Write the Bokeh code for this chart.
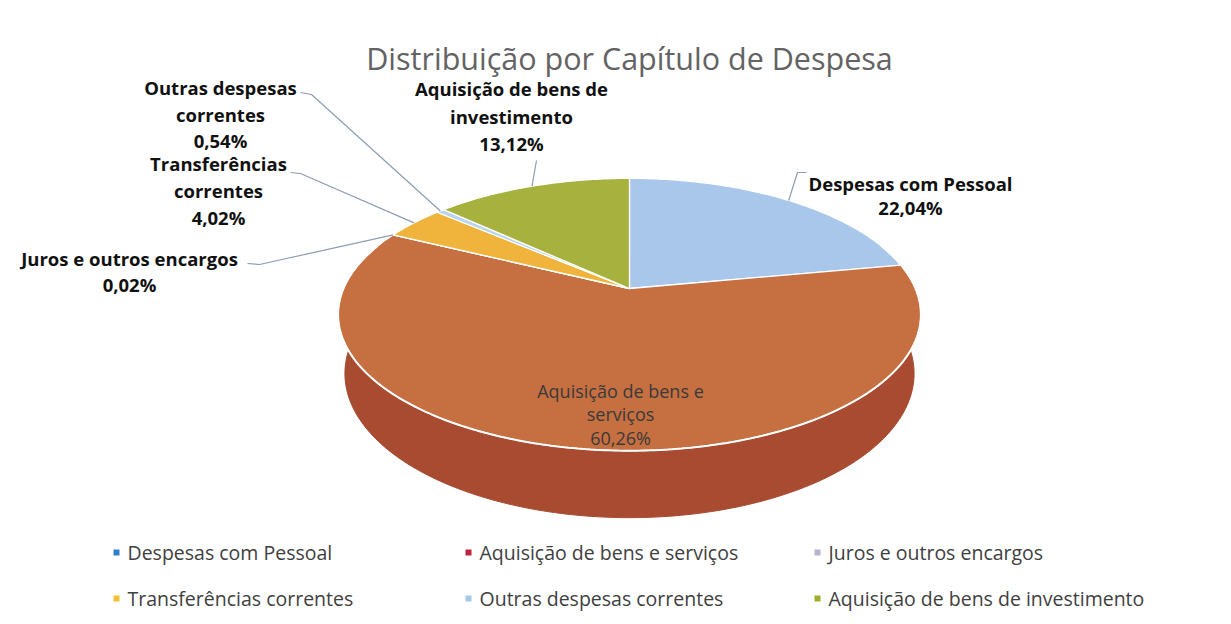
import numpy as np
from bokeh.plotting import figure
from bokeh.models import Range1d
from bokeh.embed import file_html
from bokeh.resources import INLINE
from bokeh.core.properties import value

# ---------------- data ----------------
title_text = "Distribuição por Capítulo de Despesa"
categories = ["Despesas com Pessoal", "Aquisição de bens e serviços", "Juros e outros encargos",
              "Transferências correntes", "Outras despesas correntes", "Aquisição de bens de investimento"]
values = [22.04, 60.26, 0.02, 4.02, 0.54, 13.12]
pct_text = ["22,04%", "60,26%", "0,02%", "4,02%", "0,54%", "13,12%"]
label_text = ["Despesas com Pessoal", "Aquisição de bens e\nserviços", "Juros e outros encargos",
              "Transferências\ncorrentes", "Outras despesas\ncorrentes", "Aquisição de bens de\ninvestimento"]

# ---------------- styles / layout ----------------
top_colors = ["#a9c7ea", "#c66f40", "#a9a9c9", "#f0b43c", "#b9d5ec", "#a7b13d"]
side_colors = ["#819fc2", "#a84b31", "#8a8aa8", "#c99428", "#94b0c8", "#86902c"]
legend_colors = ["#2f7fcf", "#c0233c", "#b4b4cc", "#f1c232", "#a3cbe9", "#9fae2f"]

W, H = 1215, 616
CX, CY = 629, 288
F, DIST, ELEV, THICK = 1330.0, 4.65, np.radians(27.3), 0.234

# label layout: centre x, first line y, line step, leader start (None = inside label)
lab_x = [910, 620, 129, 218, 220, 511]
lab_y = [183, 390, 258, 163, 87, 88]
lab_dy = [24, 23.5, 26, 27, 26.5, 27.5]
lead_pts = [[(806, 172), (797, 172)], None, [(247, 263), (259, 264)],
            [(290, 172), (300, 173)], [(300, 92), (311, 94)], [(536, 160)]]
inner = [1]
leg_col_x = [116, 468, 817]
leg_row_y = [552, 598]


def proj(X, Y, Z):
    s, c = np.sin(ELEV), np.cos(ELEV)
    v = Y * c + Z * s
    w = DIST + Z * c - Y * s
    return CX + F * X / w, CY - F * v / w


p = figure(width=W, height=H, x_range=Range1d(0, W), y_range=Range1d(H, 0),
           output_backend="svg", toolbar_location=None, min_border=0)
p.axis.visible = False
p.grid.visible = False
p.outline_line_color = None
p.background_fill_color = "white"
p.border_fill_color = "white"

vals = np.array(values, dtype=float)
frac = vals / vals.sum()
ends = np.cumsum(frac) * 2 * np.pi
starts = ends - frac * 2 * np.pi

# sides (front visible part)
vis_a, vis_b = np.pi / 2 - 0.35, 3 * np.pi / 2 + 0.35
sxs, sys_, scol = [], [], []
for a, b, col in zip(starts, ends, side_colors):
    lo, hi = max(a, vis_a), min(b, vis_b)
    if hi <= lo:
        continue
    t = np.linspace(lo, hi, 200)
    X, Z = np.sin(t), np.cos(t)
    tx, ty = proj(X, 0 * X, Z)
    bx, by = proj(X, -THICK + 0 * X, Z)
    sxs.append(np.concatenate([tx, bx[::-1]]))
    sys_.append(np.concatenate([ty, by[::-1]]))
    scol.append(col)
p.patches(sxs, sys_, fill_color=scol, line_color=scol, line_width=1)

# top faces
txs, tys = [], []
for a, b in zip(starts, ends):
    t = np.linspace(a, b, max(3, int(400 * (b - a) / (2 * np.pi)) + 3))
    X, Z = np.sin(t), np.cos(t)
    x, y = proj(X, 0 * X, Z)
    ox, oy = proj(0.0, 0.0, 0.0)
    txs.append(np.concatenate([[ox], x]))
    tys.append(np.concatenate([[oy], y]))
p.patches(txs, tys, fill_color=top_colors, line_color="white", line_width=1.3)

# front white rim
t = np.linspace(vis_a, vis_b, 300)
rx, ry = proj(np.sin(t), 0 * t, np.cos(t))
p.line(rx, ry, line_color="white", line_width=2)

# leader lines
mids = (starts + ends) / 2
for i, pts in enumerate(lead_pts):
    if pts is None:
        continue
    mx, my = proj(np.sin(mids[i]), 0.0, np.cos(mids[i]))
    xs = [q[0] for q in pts] + [mx]
    ys = [q[1] for q in pts] + [my]
    p.line(xs, ys, line_color="#8c9db5", line_width=1.2)

# labels
outer_x, outer_y, outer_t, in_x, in_y, in_t = [], [], [], [], [], []
for i in range(len(categories)):
    lines = label_text[i].split("\n") + [pct_text[i]]
    for k, ln in enumerate(lines):
        if i in inner:
            in_x.append(lab_x[i]); in_y.append(lab_y[i] + k * lab_dy[i]); in_t.append(ln)
        else:
            outer_x.append(lab_x[i]); outer_y.append(lab_y[i] + k * lab_dy[i]); outer_t.append(ln)
p.text(outer_x, outer_y, text=outer_t, text_align="center", text_baseline="middle",
       text_font=value("Open Sans"), text_font_style="bold", text_font_size="18.5px",
       text_color="#111111")
p.text(in_x, in_y, text=in_t, text_align="center", text_baseline="middle",
       text_font=value("Open Sans"), text_font_size="18px", text_color="#3a3a3a")

# title
p.text([629], [57], text=[title_text], text_align="center", text_baseline="middle",
       text_font=value("Open Sans"), text_font_size="30.5px", text_color="#636363")

# legend
lx, ly, lt = [], [], []
for i, c in enumerate(categories):
    r, col = divmod(i, 3)
    lx.append(leg_col_x[col]); ly.append(leg_row_y[r]); lt.append(c)
p.scatter(lx, ly, marker="square", size=6, fill_color=legend_colors, line_color=None)
p.text([x + 11 for x in lx], ly, text=lt, text_align="left", text_baseline="middle",
       text_font=value("Open Sans"), text_font_size="19.5px", text_color="#404040")

open("out.html", "w").write(file_html(p, INLINE))
